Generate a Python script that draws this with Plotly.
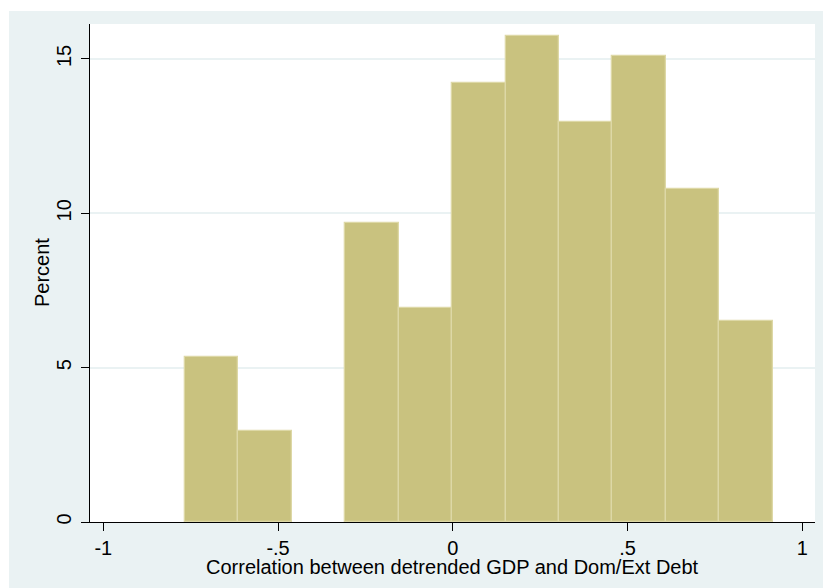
import plotly.graph_objects as go

# Histogram bins (left edges and common width)
bin_left_edges = [-0.7666, -0.6137, -0.4608, -0.3079, -0.1550, -0.0021,
                  0.1508, 0.3037, 0.4566, 0.6095, 0.7624]
bin_width = 0.1529
percent = [5.34, 2.95, 0.0, 9.69, 6.94, 14.21, 15.74, 12.96, 15.10, 10.79, 6.51]

x_ticks = [-1, -0.5, 0, 0.5, 1]
x_tick_labels = ["-1", "-.5", "0", ".5", "1"]
y_ticks = [0, 5, 10, 15]
y_tick_labels = ["0", "5", "10", "15"]

x_title = "Correlation between detrended GDP and Dom/Ext Debt"
y_title = "Percent"

BG = "#EAF2F3"
FILL = "#C9C27F"
EDGE = "#DDD8A6"
FONT = "Liberation Sans, Arial, sans-serif"
FS = 20

centers = [e + bin_width / 2 for e, p in zip(bin_left_edges, percent) if p > 0]
heights = [p for p in percent if p > 0]

fig = go.Figure(go.Bar(
    x=centers, y=heights, width=[bin_width] * len(heights),
    marker=dict(color=FILL, line=dict(color=EDGE, width=1.3)),
    hoverinfo="skip",
))

W, H = 823, 588
L, R, T, B = 90, 8, 24, 66
pw, ph = W - L - R, H - T - B

def px_x(p):
    return (p - L) / pw

def px_y(p):
    return (H - B - p) / ph

fig.update_layout(
    width=W, height=H,
    margin=dict(l=L, r=R, t=T, b=B, pad=0),
    paper_bgcolor=BG, plot_bgcolor="white",
    showlegend=False, bargap=0,
    font=dict(family=FONT, size=FS, color="black"),
    xaxis=dict(
        range=[-1.038, 1.036], tickmode="array", tickvals=x_ticks,
        ticktext=x_tick_labels, ticks="outside", ticklen=8, tickwidth=1.3,
        tickcolor="black", showline=True, linecolor="black", linewidth=1.3,
        showgrid=False, zeroline=False, ticklabelstandoff=0,
        tickfont=dict(size=FS),
    ),
    yaxis=dict(
        range=[0, 16.13], tickmode="array", tickvals=y_ticks,
        ticktext=y_tick_labels, ticks="outside", ticklen=8, tickwidth=1.3,
        tickcolor="black", showline=True, linecolor="black", linewidth=1.3,
        showgrid=True, gridcolor=BG, gridwidth=1.5, zeroline=False,
        tickangle=-90, tickfont=dict(size=FS), ticklabelstandoff=2,
    ),
    shapes=[
        dict(type="rect", xref="paper", yref="paper", layer="below",
             x0=px_x(0), x1=px_x(W), y0=px_y(0), y1=px_y(11),
             fillcolor="white", line=dict(width=0)),
        dict(type="rect", xref="paper", yref="paper", layer="below",
             x0=px_x(0), x1=px_x(9), y0=px_y(0), y1=px_y(H),
             fillcolor="white", line=dict(width=0)),
    ],
    annotations=[
        dict(text=x_title, xref="paper", yref="paper", x=0.5, y=px_y(567),
             xanchor="center", yanchor="middle", showarrow=False,
             font=dict(size=FS)),
        dict(text=y_title, xref="paper", yref="paper", x=px_x(42), y=0.5,
             xanchor="center", yanchor="middle", showarrow=False,
             textangle=-90, font=dict(size=FS)),
    ],
)

fig.write_html("out.html")
